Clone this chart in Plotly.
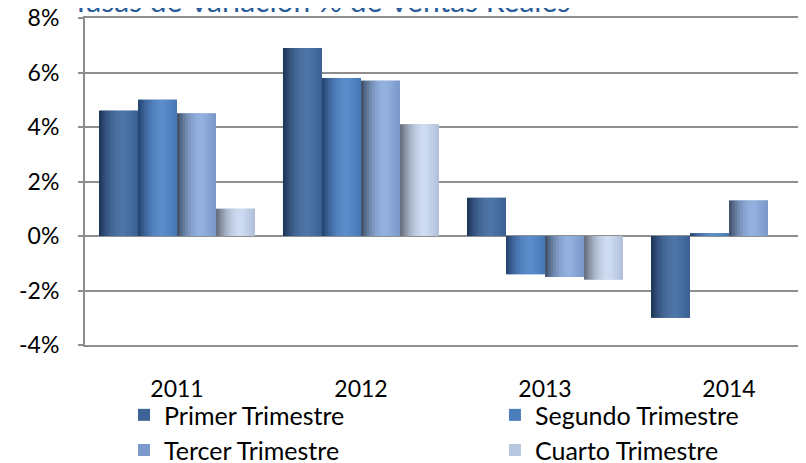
import plotly.graph_objects as go

years = ["2011", "2012", "2013", "2014"]
series_names = ["Primer Trimestre", "Segundo Trimestre", "Tercer Trimestre", "Cuarto Trimestre"]
primer = [4.6, 6.9, 1.4, -3.0]
segundo = [5.0, 5.8, -1.4, 0.1]
tercer = [4.5, 5.7, -1.5, 1.3]
cuarto = [1.0, 4.1, -1.6, None]
y_ticks = [-4, -2, 0, 2, 4, 6, 8]
y_labels = ["-4%", "-2%", "0%", "2%", "4%", "6%", "8%"]

# legend colour, then gradient stops (left edge, highlight, right edge)
colors = ["#3D6496", "#4A7EBB", "#7C9ACB", "#B8C7E0"]
stops = [
    ("#1B3253", "#4F76A8", "#3A5F8F"),
    ("#22406A", "#5B8DCC", "#4677B5"),
    ("#3B4A62", "#94B2E1", "#7896C6"),
    ("#5E6573", "#CFDCF2", "#AFBFDB"),
]


def hex2rgb(h):
    h = h.lstrip("#")
    return [int(h[i:i + 2], 16) for i in (0, 2, 4)]


def mix(a, b, t):
    a, b = hex2rgb(a), hex2rgb(b)
    return "rgb(%d,%d,%d)" % tuple(round(a[i] + (b[i] - a[i]) * t) for i in range(3))


def shade(st, t):
    left, peak, right = st
    if t < 0.65:
        u = t / 0.65
        return mix(left, peak, 1 - (1 - u) ** 2)
    return mix(peak, right, (t - 0.65) / 0.35)


values = [primer, segundo, tercer, cuarto]
legend_ids = ["legend", "legend2", "legend3", "legend4"]
group_w = 0.848
bar_w = group_w / 4
n_slices = 14

fig = go.Figure()
for k, (name, vals) in enumerate(zip(series_names, values)):
    off = -group_w / 2 + k * bar_w
    fig.add_trace(go.Bar(
        x=years, y=vals, name=name, offset=off, width=bar_w,
        marker=dict(color=colors[k], line=dict(width=0)),
        legend=legend_ids[k], hoverinfo="skip",
    ))
    sw = bar_w / n_slices
    for j in range(n_slices):
        t = (j + 0.5) / n_slices
        w = sw * 1.25 if j < n_slices - 1 else sw
        fig.add_trace(go.Bar(
            x=years, y=vals, offset=off + j * sw, width=w,
            marker=dict(color=shade(stops[k], t), line=dict(width=0)),
            showlegend=False, hoverinfo="skip",
        ))

fig.add_annotation(
    text="Tasas de Variación % de Ventas Reales",
    xref="paper", yref="paper", x=-0.021, y=1, xanchor="left", yanchor="middle",
    yshift=18, showarrow=False,
    font=dict(family="Lato", size=30, color="#2A5B99"),
)

leg_font = dict(family="Lato", size=25, color="black")
leg_pos = [(0.053, -0.2144), (0.557, -0.2144), (0.053, -0.3216), (0.557, -0.3216)]
legends = {}
for lid, (lx, ly) in zip(legend_ids, leg_pos):
    legends[lid] = dict(
        orientation="h", x=lx, y=ly, xanchor="left", yanchor="middle",
        font=leg_font, bgcolor="rgba(0,0,0,0)",
    )

# page has an 8px body margin, so the figure is shifted to line up
fig.update_layout(
    width=813, height=455,
    margin=dict(l=77, r=0, t=10, b=118, autoexpand=False),
    barmode="overlay",
    paper_bgcolor="white", plot_bgcolor="white",
    font=dict(family="Lato", size=23, color="black"),
    showlegend=True,
    **legends,
)
fig.update_xaxes(
    type="category", showgrid=False, zeroline=False,
    showline=True, mirror=True, linecolor="#8E8E8E", linewidth=2,
    ticks="", ticklabelstandoff=22, tickfont=dict(size=23),
)
fig.update_yaxes(
    range=[-4, 8], tickmode="array", tickvals=y_ticks, ticktext=y_labels,
    showgrid=True, gridcolor="#8E8E8E", gridwidth=2,
    zeroline=True, zerolinecolor="#8E8E8E", zerolinewidth=2,
    showline=True, linecolor="#8E8E8E", linewidth=2,
    ticks="outside", ticklen=5, tickcolor="#8E8E8E", tickwidth=2,
    ticklabelstandoff=14, tickfont=dict(size=23),
    ticklabeloverflow="allow",
)

fig.write_html("out.html")
